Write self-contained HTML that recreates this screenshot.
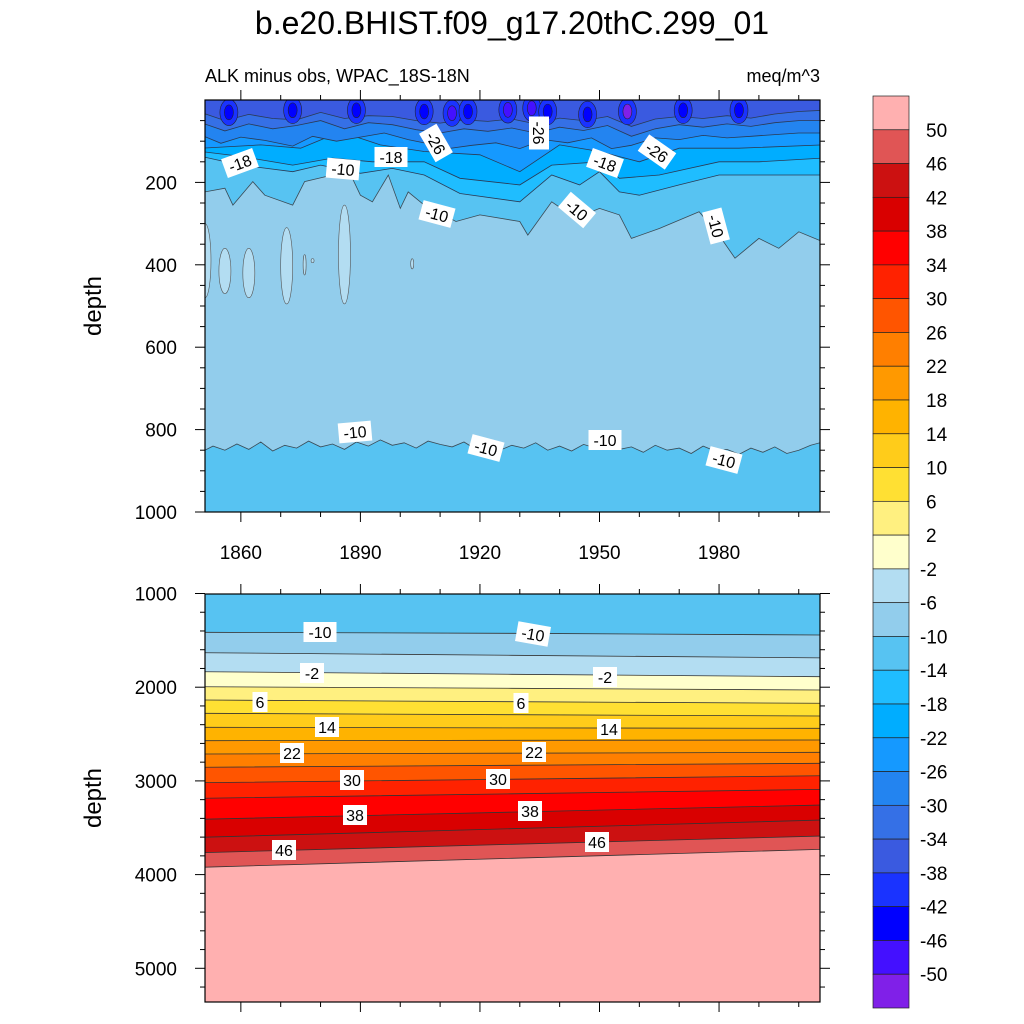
<!DOCTYPE html>
<html><head><meta charset="utf-8"><style>
body{margin:0;background:#fff}
svg{display:block;font-family:"Liberation Sans",sans-serif}
</style></head><body>
<svg id="c" width="1024" height="1024" viewBox="0 0 1024 1024">
<defs>
<clipPath id="cpTop"><rect x="205" y="100" width="615" height="412"/></clipPath>
<clipPath id="cpBot"><rect x="205" y="594" width="615" height="408"/></clipPath>
</defs>
<text x="512" y="34" text-anchor="middle" font-size="32">b.e20.BHIST.f09_g17.20thC.299_01</text>
<text x="205" y="82" font-size="18">ALK minus obs, WPAC_18S-18N</text>
<text x="820" y="82" font-size="18" text-anchor="end">meq/m^3</text>
<g id="topPanel" clip-path="url(#cpTop)"></g>
<g id="botPanel" clip-path="url(#cpBot)"></g>
<g id="labelsG"></g>
<g id="axesG"></g>
<g id="cbarG"></g>
</svg>
<script>
// ---- colour scale ----
const cbColors = ["#ffb0b0","#e05555","#cc1111","#d90000","#ff0000","#ff2200","#ff5500","#ff7f00","#ff9900","#ffb300","#ffcc1a","#ffe033","#fff080","#ffffcc","#b3ddf2","#92cdec","#57c3f2","#1fbdff","#00adff","#1599ff","#2384f0","#3570e6","#3a5ae0","#1a33ff","#0000ff","#4410ff","#8020e8"];
const cbLabels = [50,46,42,38,34,30,26,22,18,14,10,6,2,-2,-6,-10,-14,-18,-22,-26,-30,-34,-38,-42,-46,-50];
// ---- top panel contours (year, depth) ----
const c10aYears = [1851,1856,1858,1863,1866,1873,1876,1883,1888,1890,1893,1897,1900,1902,1906,1914,1920,1930,1932,1938,1944,1950,1955,1958,1965,1975,1980,1984,1990,1995,2000,2006];
const c10aDepth = [223,214,255,198,231,255,198,182,190,231,247,182,263,223,255,295,279,295,328,247,287,263,279,336,312,271,328,384,336,360,320,344];
const c10bYears = [1850,1853,1856,1859,1862,1865,1868,1871,1874,1877,1880,1883,1886,1889,1892,1895,1898,1901,1904,1907,1910,1913,1916,1919,1922,1925,1928,1931,1934,1937,1940,1943,1946,1949,1952,1955,1958,1961,1964,1967,1970,1973,1976,1979,1982,1985,1988,1991,1994,1997,2000,2003,2006];
const c10bDepth = [855,840,850,835,848,830,852,838,845,828,842,835,848,830,840,825,838,832,845,828,836,842,830,848,835,850,838,845,832,850,840,852,836,845,830,848,842,855,838,850,845,858,840,852,848,860,845,855,842,858,850,838,830];
const c14Years = [1850,1860,1873,1880,1890,1898,1906,1915,1930,1938,1945,1950,1955,1960,1970,1980,1990,2006];
const c14Depth = [137,158,174,158,178,166,182,227,247,182,206,174,223,231,206,182,182,182];
const c18Years = [1850,1860,1873,1883,1893,1906,1915,1930,1938,1950,1955,1965,1980,1990,2006];
const c18Depth = [125,137,158,141,150,150,190,206,158,150,190,182,150,150,141];
const c22Years = [1850,1865,1875,1885,1895,1906,1920,1930,1940,1950,1960,1970,1985,2006];
const c22Depth = [117,109,117,77,109,125,133,174,109,125,150,117,117,109];
const c26Years = [1850,1855,1860,1866,1873,1878,1884,1890,1896,1902,1908,1912,1918,1924,1930,1936,1942,1948,1953,1958,1964,1970,1976,1982,1988,1994,2000,2006];
const c26Depth = [85,105,90,98,112,88,100,90,80,96,108,118,110,104,118,96,104,92,118,110,92,96,86,92,88,84,80,80];
const c30Years = [1850,1856,1862,1868,1874,1880,1886,1892,1898,1904,1910,1916,1922,1928,1934,1940,1946,1952,1958,1964,1970,1976,1982,1988,1994,2000,2006];
const c30Depth = [55,75,58,70,62,50,70,55,60,72,80,70,76,68,80,66,74,62,88,70,60,66,58,64,55,50,50];
const c34Years = [1850,1856,1862,1868,1874,1880,1886,1892,1898,1904,1910,1916,1922,1928,1934,1940,1946,1952,1958,1964,1970,1976,1982,1988,1994,2000,2006];
const c34Depth = [30,50,35,45,48,30,45,38,40,50,56,48,52,46,58,44,50,40,64,46,40,45,38,44,34,28,25];
const blobYears = [1857,1873,1889,1906,1913,1917,1927,1933,1937,1947,1957,1971,1985];
const blobDepth = [30,25,25,28,32,28,24,20,28,35,28,25,25];
const blobLevel = [-42,-42,-42,-42,-46,-42,-46,-46,-42,-42,-50,-42,-42];
const lightYears = [1851,1856,1862,1871.5,1886,1876,1878,1903];
const lightTop = [300,360,360,310,255,375,385,385];
const lightBot = [480,470,480,495,495,425,395,410];
// ---- bottom panel contours: depths at 1850, 1928, 2006 ----
const botLevels = [-10,-6,-2,2,6,10,14,18,22,26,30,34,38,42,46,50];
const botLeft  = [1414,1632,1835,1995,2137,2279,2428,2571,2713,2855,3019,3186,3410,3602,3766,3922];
const botMid   = [1425,1660,1862,2012,2155,2293,2434,2567,2704,2834,2982,3138,3333,3510,3677,3826];
const botRight = [1443,1687,1888,2030,2172,2307,2439,2563,2695,2812,2945,3090,3257,3417,3588,3730];
const xTickYears = [1860,1890,1920,1950,1980];
const topDepthTicks = [200,400,600,800,1000];
const botDepthTicks = [1000,2000,3000,4000,5000];

const NS="http://www.w3.org/2000/svg";
const X = yr => 201 + (yr-1850)*3.985;
const YT = d => 100 + d*0.412;
const YB = d => 593.5 + (d-1000)*0.0937;
function mk(tag, attrs, parent){const e=document.createElementNS(NS,tag);for(const k in attrs)e.setAttribute(k,attrs[k]);parent.appendChild(e);return e;}
function colorFor(v){ const i = cbLabels.indexOf(v); return cbColors[i+1]; }
const topG=document.getElementById('topPanel'), botG=document.getElementById('botPanel');
const labelsG=document.getElementById('labelsG'), axesG=document.getElementById('axesG'), cbarG=document.getElementById('cbarG');
function linePts(ys,ds,Y){return ys.map((y,i)=>X(y).toFixed(1)+','+Y(ds[i]).toFixed(1));}

// top panel
let r=mk('rect',{x:205,y:100,width:615,height:412,fill:colorFor(-10)},topG);


let pts=linePts(c10aYears,c10aDepth,YT).concat(linePts(c10bYears,c10bDepth,YT).reverse());
let p=mk('polygon',{points:pts.join(' '),fill:colorFor(-6)},topG);


lightYears.forEach((y,i)=>{
  const e=mk('ellipse',{cx:X(y),cy:(YT(lightTop[i])+YT(lightBot[i]))/2,rx:i<5?6:1.5,ry:(YT(lightBot[i])-YT(lightTop[i]))/2,fill:colorFor(-2),stroke:'#555','stroke-width':0.6},topG);
  
  
});
[[c10aYears,c10aDepth],[c10bYears,c10bDepth]].forEach(([ys,ds])=>{
  const l=mk('polyline',{points:linePts(ys,ds,YT).join(' '),fill:'none',stroke:'#3a4a55','stroke-width':0.8},topG);
  
  
});
const topBands=[[c14Years,c14Depth,-14],[c18Years,c18Depth,-18],[c22Years,c22Depth,-22],[c26Years,c26Depth,-26],[c30Years,c30Depth,-30],[c34Years,c34Depth,-34]];
topBands.forEach(([ys,ds,lv])=>{
  const pp=linePts(ys,ds,YT); pp.push(X(2006)+','+YT(-10)); pp.push(X(1850)+','+YT(-10));
  const b=mk('polygon',{points:pp.join(' '),fill:colorFor(lv),stroke:'none'},topG);
  
  
  const l=mk('polyline',{points:linePts(ys,ds,YT).join(' '),fill:'none',stroke:'#2a3a55','stroke-width':0.8},topG);
  
  
});
blobYears.forEach((y,i)=>{
  const lv=blobLevel[i];
  const outer=mk('ellipse',{cx:X(y),cy:YT(blobDepth[i]),rx:9,ry:YT(blobDepth[i]+32)-YT(blobDepth[i]),fill:colorFor(-38),stroke:'#223','stroke-width':0.6},topG);
  
  
  const inner=mk('ellipse',{cx:X(y),cy:YT(blobDepth[i]),rx:4.5,ry:YT(blobDepth[i]+18)-YT(blobDepth[i]),fill:colorFor(lv),stroke:'#223','stroke-width':0.6},topG);
  
  
});

// bottom panel
r=mk('rect',{x:205,y:594,width:615,height:408,fill:cbColors[0]},botG);


for(let i=botLevels.length-1;i>=0;i--){
  const ys=[1850,1928,2006], ds=[botLeft[i],botMid[i],botRight[i]];
  const pp=linePts(ys,ds,YB); pp.push(X(2006)+',590'); pp.push(X(1850)+',590');
  const b=mk('polygon',{points:pp.join(' '),fill:colorFor(botLevels[i])},botG);
  
  
}
botLevels.forEach((lv,i)=>{
  const l=mk('polyline',{points:linePts([1850,1928,2006],[botLeft[i],botMid[i],botRight[i]],YB).join(' '),fill:'none',stroke:'#333','stroke-width':0.8},botG);
  
  
});

// contour labels
const labs=[["-18",240,163,-20],["-10",343,169,5],["-18",391,157,0],["-26",436,143,60],["-26",539,133,90],["-18",605,163,20],["-26",657,152,35],["-10",437,214,15],["-10",577,210,40],["-10",716,226,75],["-10",355,432,-5],["-10",486,448,15],["-10",605,440,0],["-10",724,460,15],
["-10",320,632,0],["-10",533,634,10],["-2",312,673,0],["-2",605,677,0],["6",260,702,0],["6",521,703,0],["14",327,727,0],["14",609,729,0],["22",292,753,0],["22",534,752,0],["30",352,780,0],["30",498,779,0],["38",355,815,0],["38",530,811,0],["46",284,850,0],["46",597,842,0]];
labs.forEach(([t,x,y,a])=>{
  const g=mk('g',{transform:`translate(${x},${y}) rotate(${a})`},labelsG);
  
  
  const w=t.length*9+6;
  mk('rect',{x:-w/2,y:-10,width:w,height:20,fill:'#fff'},g);
  const tx=mk('text',{x:0,y:6,'text-anchor':'middle','font-size':16},g); tx.textContent=t;
});

// axes
function frame(y0,y1,name){const f=mk('rect',{x:205,y:y0,width:615,height:y1-y0,fill:'none',stroke:'#000','stroke-width':1.2},axesG);
  
  }
frame(100,512,'top-panel-frame');frame(594,1002,'bottom-panel-frame');
function tick(x1,y1,x2,y2){mk('line',{x1,y1,x2,y2,stroke:'#000','stroke-width':1},axesG);}
for(let yr=1860;yr<=2000;yr+=10){const x=X(yr),maj=xTickYears.includes(yr);const L=maj?10:5;
  tick(x,100,x,100-L);tick(x,512,x,512+L);tick(x,594,x,594-L);tick(x,1002,x,1002+L);}
xTickYears.forEach(yr=>{const t=mk('text',{x:X(yr),y:559,'text-anchor':'middle','font-size':19},axesG);t.textContent=yr;
  
  });
for(let d=50;d<=1000;d+=50){const y=YT(d),L=d%200==0?10:5;tick(205,y,205-L,y);tick(820,y,820+L,y);}
topDepthTicks.forEach(d=>{const t=mk('text',{x:177,y:YT(d)+7,'text-anchor':'end','font-size':19},axesG);t.textContent=d;
  
  });
for(let d=1000;d<=5300;d+=200){const y=YB(d),L=d%1000==0?10:5;if(y>1002)continue;tick(205,y,205-L,y);tick(820,y,820+L,y);}
botDepthTicks.forEach(d=>{const t=mk('text',{x:177,y:YB(d)+7,'text-anchor':'end','font-size':19},axesG);t.textContent=d;
  
  });
[[306,'top-y-axis-title'],[798,'bottom-y-axis-title']].forEach(([y,n])=>{
  const t=mk('text',{x:0,y:0,transform:`translate(101,${y}) rotate(-90)`,'text-anchor':'middle','font-size':24},axesG);t.textContent='depth';
  
  });

// colorbar
const cbTop=96,cbH=912/27;
cbColors.forEach((c,i)=>{const b=mk('rect',{x:873,y:cbTop+i*cbH,width:36,height:cbH,fill:c,stroke:'#222','stroke-width':0.7},cbarG);
  
  });
cbLabels.forEach((v,i)=>{const t=mk('text',{x:v<0?920:926,y:cbTop+(i+1)*cbH+7,'font-size':19},cbarG);t.textContent=v;
  
  });
</script>
</body></html>
